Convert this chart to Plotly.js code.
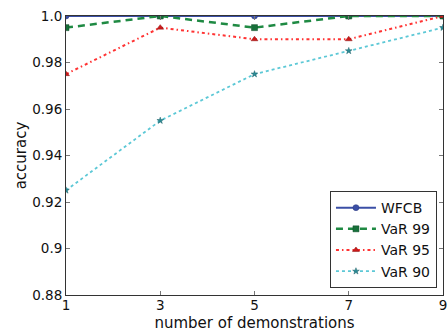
<!DOCTYPE html>
<html><head><meta charset="utf-8">
<script src="https://cdn.plot.ly/plotly-3.0.1.min.js"></script>
<style>body{margin:0;padding:0;background:#fff}#chart{width:448px;height:332px}</style>
</head><body><div id="chart"></div>
<script>
const demonstrations = [1, 3, 5, 7, 9];
const wfcb = [1.0, 1.0, 1.0, 1.0, 1.0];
const var99 = [0.995, 1.0, 0.995, 1.0, 1.0];
const var95 = [0.975, 0.995, 0.99, 0.99, 1.0];
const var90 = [0.925, 0.955, 0.975, 0.985, 0.995];
const xTicks = [1, 3, 5, 7, 9];
const yTicks = [0.88, 0.9, 0.92, 0.94, 0.96, 0.98, 1.0];
const yTickText = ['0.88', '0.9', '0.92', '0.94', '0.96', '0.98', '1.0'];

const traces = [
  {x: demonstrations, y: wfcb, name: 'WFCB', mode: 'lines+markers',
   line: {color: '#3b4fa6', width: 2, dash: 'solid'},
   marker: {symbol: 'circle', size: 6, color: '#3b4fa6', line: {color: '#26357a', width: 0.5}}},
  {x: demonstrations, y: var99, name: 'VaR 99', mode: 'lines+markers',
   line: {color: '#1f8a43', width: 2.5, dash: '7px,5px'},
   marker: {symbol: 'square', size: 6, color: '#17703a', line: {color: '#0e4d26', width: 0.5}}},
  {x: demonstrations, y: var95, name: 'VaR 95', mode: 'lines+markers',
   line: {color: '#ff3333', width: 2, dash: '3px,3px,1.5px,3px'},
   marker: {symbol: 'triangle-up', size: 6, color: '#cc1a1a', line: {color: '#8a1010', width: 0.5}}},
  {x: demonstrations, y: var90, name: 'VaR 90', mode: 'lines+markers',
   line: {color: '#5cc8d6', width: 1.8, dash: 'dot'},
   marker: {symbol: 'star', size: 5, color: '#2a8c96', line: {color: '#1c6068', width: 0.5}}}
];

const axisCommon = {
  showgrid: false, zeroline: false, showline: true, linecolor: '#333', linewidth: 1,
  mirror: 'allticks', ticks: 'inside', ticklen: 4, tickcolor: '#777',
  ticklabeloverflow: 'allow', automargin: false,
  tickfont: {family: 'DejaVu Sans', size: 13.5, color: '#111'}
};

const layout = {
  width: 448, height: 332,
  margin: {l: 66, r: 5, t: 16, b: 37},
  paper_bgcolor: '#fff', plot_bgcolor: '#fff',
  font: {family: 'DejaVu Sans', color: '#111'},
  showlegend: true,
  legend: {x: 0.984, y: 0.025, xanchor: 'right', yanchor: 'bottom',
    bgcolor: '#fff', bordercolor: '#333', borderwidth: 1,
    font: {family: 'DejaVu Sans', size: 14, color: '#111'},
    tracegroupgap: 0, itemwidth: 40},
  xaxis: Object.assign({}, axisCommon, {
    range: [1, 9], tickvals: xTicks, ticktext: xTicks.map(String),
    ticklabelstandoff: -2,
    title: {text: 'number of demonstrations', font: {family: 'DejaVu Sans', size: 15, color: '#111'}}
  }),
  yaxis: Object.assign({}, axisCommon, {
    range: [0.88, 1.0], tickvals: yTicks, ticktext: yTickText,
    title: {text: 'accuracy', font: {family: 'DejaVu Sans', size: 15, color: '#111'}}
  })
};

Plotly.newPlot('chart', traces, layout, {displayModeBar: false, staticPlot: true});
</script>
</body></html>
